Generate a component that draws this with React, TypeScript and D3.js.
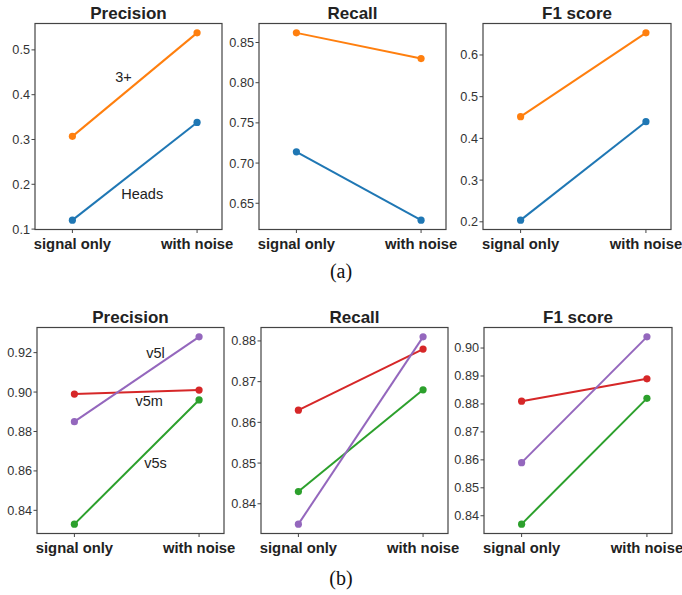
import React from "react";
import * as d3 from "d3";

// x categories
const conditions = ["signal only", "with noise"];

// (a) heads vs 3+
const seriesA = ["Heads", "3+"];
const precisionA = [[0.12, 0.338], [0.307, 0.538]];
const recallA = [[0.714, 0.629], [0.862, 0.83]];
const f1A = [[0.204, 0.44], [0.452, 0.653]];

// (b) v5s / v5m / v5l
const seriesB = ["v5s", "v5m", "v5l"];
const precisionB = [[0.833, 0.896], [0.899, 0.901], [0.885, 0.928]];
const recallB = [[0.843, 0.868], [0.863, 0.878], [0.835, 0.881]];
const f1B = [[0.837, 0.882], [0.881, 0.889], [0.859, 0.904]];

// tick values per panel
const ticksPrecA = [0.1, 0.2, 0.3, 0.4, 0.5];
const ticksRecA = [0.65, 0.7, 0.75, 0.8, 0.85];
const ticksF1A = [0.2, 0.3, 0.4, 0.5, 0.6];
const ticksPrecB = [0.84, 0.86, 0.88, 0.9, 0.92];
const ticksRecB = [0.84, 0.85, 0.86, 0.87, 0.88];
const ticksF1B = [0.84, 0.85, 0.86, 0.87, 0.88, 0.89, 0.9];

// in-plot labels: [text, x (category index), y value]
const labelsPrecA: [string, number, number][] = [["3+", 0.41, 0.439], ["Heads", 0.56, 0.178]];
const labelsPrecB: [string, number, number][] = [["v5l", 0.65, 0.92], ["v5m", 0.6, 0.8953], ["v5s", 0.65, 0.8638]];

const colorsA: Record<string, string> = { Heads: "#1f77b4", "3+": "#ff7f0e" };
const colorsB: Record<string, string> = { v5s: "#2ca02c", v5m: "#d62728", v5l: "#9467bd" };

const FONT = "'Liberation Sans', Arial, sans-serif";

type PanelProps = {
  left: number;
  top: number;
  width: number;
  height: number;
  title: string;
  names: string[];
  values: number[][];
  colors: Record<string, string>;
  ticks: number[];
  fmt: string;
  labels?: [string, number, number][];
};

function Panel({ left, top, width, height, title, names, values, colors, ticks, fmt, labels }: PanelProps) {
  const all = values.flat();
  const lo = d3.min(all)!;
  const hi = d3.max(all)!;
  const pad = (hi - lo) * 0.05;
  const x = d3.scaleLinear().domain([-0.3, 1.2]).range([0, width]);
  const y = d3.scaleLinear().domain([lo - pad, hi + pad]).range([height, 0]);
  const f = d3.format(fmt);
  const line = d3
    .line<number>()
    .x((_, i) => x(i))
    .y((d) => y(d));

  return (
    <g transform={`translate(${left},${top})`}>
      <text x={width / 2} y={-5} textAnchor="middle" fontFamily={FONT} fontWeight="bold" fontSize={17} fill="#222">
        {title}
      </text>
      {names.map((n, k) => (
        <g key={n}>
          <path d={line(values[k])!} fill="none" stroke={colors[n]} strokeWidth={2} />
          {values[k].map((v, i) => (
            <circle key={i} cx={x(i)} cy={y(v)} r={3.6} fill={colors[n]} />
          ))}
        </g>
      ))}
      {labels &&
        labels.map(([t, lx, ly]) => (
          <text key={t} x={x(lx)} y={y(ly)} dy="0.35em" textAnchor="middle" fontFamily={FONT} fontSize={14.5} fill="#222">
            {t}
          </text>
        ))}
      <rect x={0} y={0} width={width} height={height} fill="none" stroke="#444" strokeWidth={1.2} />
      {ticks.map((t) => (
        <g key={t} transform={`translate(0,${y(t)})`}>
          <line x1={-3.5} x2={0} stroke="#444" strokeWidth={1} />
          <text x={-5} dy="0.35em" textAnchor="end" fontFamily={FONT} fontSize={12.7} fill="#333">
            {f(t)}
          </text>
        </g>
      ))}
      {conditions.map((c, i) => (
        <g key={c} transform={`translate(${x(i)},${height})`}>
          <line y1={0} y2={3.5} stroke="#444" strokeWidth={1} />
          <text y={19} textAnchor="middle" fontFamily={FONT} fontWeight="bold" fontSize={14.8} fill="#222">
            {c}
          </text>
        </g>
      ))}
    </g>
  );
}

export default function App() {
  const W = 187;
  const H = 206;
  return (
    <svg width={682} height={595} style={{ position: "absolute", left: 0, top: 0, background: "#fff" }}>
      <Panel left={35} top={23.5} width={W} height={H} title="Precision" names={seriesA} values={precisionA} colors={colorsA} ticks={ticksPrecA} fmt=".1f" labels={labelsPrecA} />
      <Panel left={259} top={23.5} width={W} height={H} title="Recall" names={seriesA} values={recallA} colors={colorsA} ticks={ticksRecA} fmt=".2f" />
      <Panel left={483} top={23.5} width={W + 1} height={H} title="F1 score" names={seriesA} values={f1A} colors={colorsA} ticks={ticksF1A} fmt=".1f" />
      <text x={341} y={278} textAnchor="middle" fontFamily="'Liberation Serif', 'Times New Roman', serif" fontSize={20} fill="#111">
        (a)
      </text>

      <Panel left={37} top={327.5} width={W} height={H} title="Precision" names={seriesB} values={precisionB} colors={colorsB} ticks={ticksPrecB} fmt=".2f" labels={labelsPrecB} />
      <Panel left={261} top={327.5} width={W} height={H} title="Recall" names={seriesB} values={recallB} colors={colorsB} ticks={ticksRecB} fmt=".2f" />
      <Panel left={484} top={327.5} width={W + 1} height={H} title="F1 score" names={seriesB} values={f1B} colors={colorsB} ticks={ticksF1B} fmt=".2f" />
      <text x={341} y={585} textAnchor="middle" fontFamily="'Liberation Serif', 'Times New Roman', serif" fontSize={20} fill="#111">
        (b)
      </text>
    </svg>
  );
}
